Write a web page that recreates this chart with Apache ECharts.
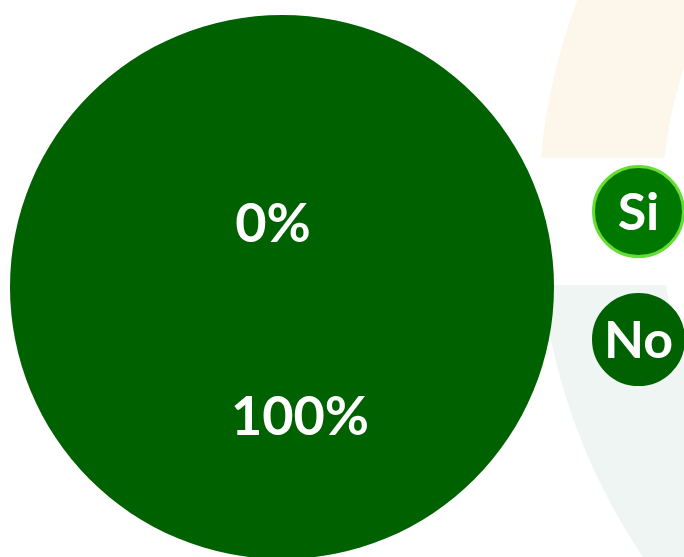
<!DOCTYPE html>
<html>
<head>
<meta charset="utf-8">
<script src="https://cdn.jsdelivr.net/npm/echarts@6/dist/echarts.min.js"></script>
<style>
  html,body{margin:0;padding:0;background:#fff;}
  #main{width:684px;height:557px;}
</style>
</head>
<body>
<div id="main"></div>
<script>
let names = ['Si','No'];
let values = [0, 100];
let colors = ['#007800','#006100'];
let borders = ['#66dd33','#006100'];
// label nudges so the texts sit where the original put them
let labelShift = [[-9,77],[18,-8]];

let myChart = echarts.init(document.getElementById('main'));

let legendItems = [];
names.forEach((name,i)=>{
    legendItems.push({
        type:'group',
        left:592,
        top:165 + i*128,
        z:10,
        children:[
            {
                type:'circle',
                shape:{cx:46,cy:45,r:45},
                style:{fill:colors[i],stroke:borders[i],lineWidth:3}
            },
            {
                type:'text',
                x:46,y:47,
                style:{
                    text:name,
                    fill:'#fff',
                    font:'bold 52px Lato',
                    textAlign:'center',
                    textVerticalAlign:'middle'
                }
            }
        ]
    });
});

myChart.setOption({
    backgroundColor:'#fff',
    graphic:[
        {
            type:'sector',
            z:-10,
            shape:{cx:1148,cy:215,r0:487,r:610,startAngle:Math.PI,endAngle:Math.PI*1.5},
            style:{fill:'#fcf7ea'}
        },
        {
            type:'sector',
            z:-10,
            shape:{cx:1148,cy:215,r0:487,r:610,startAngle:Math.PI*0.5,endAngle:Math.PI},
            style:{fill:'#eff5f2'}
        },
        {
            type:'rect',
            z:-9,
            shape:{x:500,y:158,width:184,height:127},
            style:{fill:'#fff'}
        }
    ].concat(legendItems),
    series:[
        {
            type:'pie',
            center:[282,287],
            radius:272,
            startAngle:90,
            avoidLabelOverlap:false,
            label:{
                show:true,
                position:'inside',
                formatter:'{d}%',
                color:'#fff',
                fontFamily:'Lato',
                fontWeight:'bold',
                fontSize:54
            },
            labelLine:{show:false},
            emphasis:{disabled:true},
            data:names.map((name,i)=>({
                name:name,
                value:values[i],
                itemStyle:{color:colors[i]},
                label:{offset:labelShift[i]}
            }))
        }
    ]
});
</script>
</body>
</html>
